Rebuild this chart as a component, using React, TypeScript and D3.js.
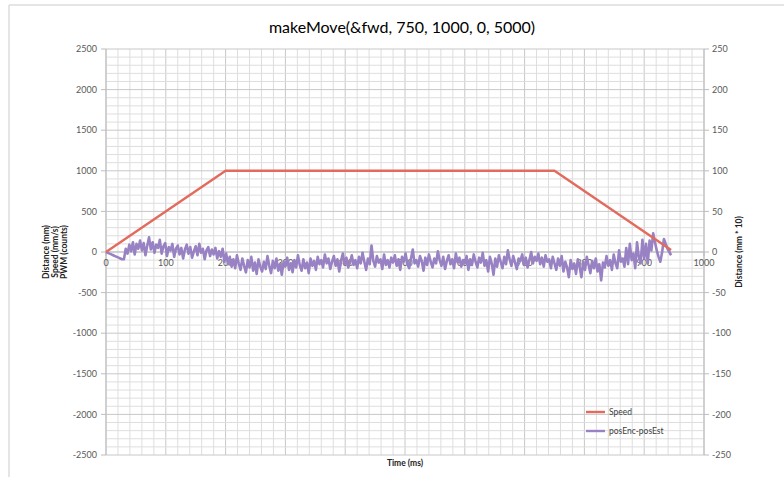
import React from "react";
import * as d3 from "d3";

const TITLE = "makeMove(&fwd, 750, 1000, 0, 5000)";
const X_TICKS = [0, 100, 200, 300, 400, 500, 600, 700, 800, 900, 1000];
const LEFT_TICKS = [2500, 2000, 1500, 1000, 500, 0, -500, -1000, -1500, -2000, -2500];
const RIGHT_TICKS = [250, 200, 150, 100, 50, 0, -50, -100, -150, -200, -250];

// Speed (mm/s), left axis
const speedTime = [0, 200, 750, 945];
const speedValue = [0, 1000, 1000, 25];

// posEnc-posEst (mm * 10), right axis, one sample every 3 ms from t = 0
const SAMPLE_MS = 3;
const posErr = [
  0, -1, -2, -3, -4, -5, -6, -7, -8, -9, -9, 4, -2, 9, 1, 12, -3, 10, 4, 14,
  2, 11, -4, 8, 18, 3, 12, -1, 9, 5, 15, -2, 7, 11, -5, 6, 2, 10, -6, 4,
  8, -3, 5, -8, 3, 9, -2, 6, -7, 1, 7, -4, 10, -1, 4, -9, 2, 6, -5, 3,
  -3, 5, -8, 1, -6, 4, -12, -2, -15, -6, -18, -9, -20, -4, -14, -22, -8, -17, -25, -10,
  -19, -6, -23, -13, -27, -9, -18, -24, -12, -21, -5, -17, -26, -11, -20, -8, -23, -15, -28, -12,
  -18, -7, -22, -14, -25, -10, -19, -4, -16, -23, -9, -20, -13, -26, -8, -17, -11, -22, -6, -15,
  -10, -19, -3, -14, -8, -21, -12, -5, -17, -9, -24, -11, -2, -15, -7, -19, -13, -4, -16, -10,
  -20, -6, -14, -1, -12, -22, -8, -15, 8, -11, -18, -5, -13, -9, -21, -3, -16, -10, -19, -7,
  -13, -4, -17, -9, -22, -6, -12, -2, -15, -20, -8, 3, -14, -10, -18, -5, -11, -23, -7, -16,
  -3, -12, -19, -8, -14, 1, -10, -17, -6, -21, -11, -4, -15, -9, -20, -2, -13, -7, -18, -10,
  -14, -5, -22, -9, -16, -3, -12, -19, -7, -13, -1, -17, -10, -24, -6, -14, -28, -8, -18, -4,
  -12, -20, -6, -15, 2, -9, -17, -5, -13, -21, -8, -11, -3, -16, -7, -19, -10, 0, -14, -6,
  -11, -2, -15, -7, -18, -4, -12, -9, -20, -6, -14, -22, -8, -17, -5, -24, -12, -19, -31, -10,
  -21, -14, -27, -9, -18, -31, -12, -22, -6, -16, -26, -11, -20, -8, -24, -15, -35, -13, -19, -5,
  -17, -10, -22, -3, -14, -20, 2, -12, -8, -18, 5, -15, 10, -10, -2, -20, 12, -6, -14, 15,
  -8, 10, -14, 14, 2, 23, 12, 2, -6, -12, 0, 16, 10, 4, 0, -4,
];

const W = 784;
const H = 477;
const PL = 106;
const PR = 704;
const PT = 49;
const PB = 455;

const FONT = "Lato, 'Open Sans', sans-serif";
const RED = "#e26b5d";
const PURPLE = "#9882c4";

export default function App() {
  const x = d3.scaleLinear().domain([0, 1000]).range([PL, PR]);
  const yL = d3.scaleLinear().domain([-2500, 2500]).range([PB, PT]);
  const yR = d3.scaleLinear().domain([-250, 250]).range([PB, PT]);

  const minorX = d3.range(0, 1001, 20);
  const minorY = d3.range(-2500, 2501, 100);

  const speedPts = speedTime.map((t, i) => [x(t), yL(speedValue[i])] as [number, number]);
  const errPts = posErr.map((v, i) => [x(i * SAMPLE_MS), yR(v)] as [number, number]);
  const line = d3.line();

  const midY = (PT + PB) / 2;

  return (
    <svg
      width={W}
      height={H}
      style={{ position: "absolute", left: 0, top: 0, display: "block", background: "#fff" }}
      fontFamily={FONT}
    >
      <rect x={0} y={0} width={W} height={H} fill="#fff" />
      <line x1={9} x2={W} y1={5} y2={5} stroke="#dcdcdc" strokeWidth={1.5} />
      <line x1={9} x2={9} y1={5} y2={H} stroke="#dcdcdc" strokeWidth={1.5} />

      {/* grid */}
      {minorX.map((v) => (
        <line key={"mx" + v} x1={x(v)} x2={x(v)} y1={PT} y2={PB}
          stroke={v % 100 === 0 ? "#c8c8c8" : "#dedede"} strokeWidth={1} />
      ))}
      {minorY.map((v) => (
        <line key={"my" + v} x1={PL} x2={PR} y1={yL(v)} y2={yL(v)}
          stroke={v % 500 === 0 ? "#c8c8c8" : "#dedede"} strokeWidth={1} />
      ))}

      {/* axes */}
      <line x1={PL} x2={PL} y1={PT} y2={PB} stroke="#bdbdbd" />
      <line x1={PR} x2={PR} y1={PT} y2={PB} stroke="#bdbdbd" />
      <line x1={PL} x2={PR} y1={yL(0)} y2={yL(0)} stroke="#bdbdbd" />

      {LEFT_TICKS.map((v) => (
        <g key={"lt" + v}>
          <line x1={PL - 5} x2={PL} y1={yL(v)} y2={yL(v)} stroke="#bdbdbd" />
          <text x={97} y={yL(v)} dy="0.35em" textAnchor="end" fontSize={9} fill="#595959">{v}</text>
        </g>
      ))}
      {RIGHT_TICKS.map((v) => (
        <g key={"rt" + v}>
          <line x1={PR} x2={PR + 5} y1={yR(v)} y2={yR(v)} stroke="#bdbdbd" />
          <text x={712} y={yR(v)} dy="0.35em" textAnchor="start" fontSize={9} fill="#595959">{v}</text>
        </g>
      ))}
      {X_TICKS.map((v) => (
        <g key={"xt" + v}>
          <line x1={x(v)} x2={x(v)} y1={yL(0)} y2={yL(0) + 4} stroke="#bdbdbd" />
          <text x={x(v)} y={263} dy="0.35em" textAnchor="middle" fontSize={9} fill="#595959">{v}</text>
        </g>
      ))}

      {/* series */}
      <path d={line(errPts) || ""} fill="none" stroke={PURPLE} strokeWidth={2.6} strokeLinejoin="round" />
      <path d={line(speedPts) || ""} fill="none" stroke={RED} strokeWidth={2.4} strokeLinejoin="round" />

      {/* titles */}
      <text x={402} y={27} dy="0.35em" textAnchor="middle" fontSize={16} fill="#000">{TITLE}</text>
      <text x={405} y={463} dy="0.35em" textAnchor="middle" fontSize={8.5} fontWeight="bold" fill="#222">Time (ms)</text>
      <g transform={`translate(46, ${midY}) rotate(-90)`}>
        <text x={0} y={0} dy="0.35em" textAnchor="middle" fontSize={8.5} fontWeight="bold" fill="#222">Distance (mm)</text>
      </g>
      <g transform={`translate(55, ${midY}) rotate(-90)`}>
        <text x={0} y={0} dy="0.35em" textAnchor="middle" fontSize={8.5} fontWeight="bold" fill="#222">Speed (mm/s)</text>
      </g>
      <g transform={`translate(64, ${midY}) rotate(-90)`}>
        <text x={0} y={0} dy="0.35em" textAnchor="middle" fontSize={8.5} fontWeight="bold" fill="#222">PWM (counts)</text>
      </g>
      <g transform={`translate(739, ${midY}) rotate(-90)`}>
        <text x={0} y={0} dy="0.35em" textAnchor="middle" fontSize={8.5} fontWeight="bold" fill="#222">Distance (mm * 10)</text>
      </g>

      {/* legend */}
      <line x1={586} x2={605} y1={412} y2={412} stroke={RED} strokeWidth={2.4} />
      <text x={609} y={412} dy="0.35em" fontSize={8.5} fill="#404040">Speed</text>
      <line x1={586} x2={605} y1={431} y2={431} stroke={PURPLE} strokeWidth={2.4} />
      <text x={609} y={431} dy="0.35em" fontSize={8.5} fill="#404040">posEnc-posEst</text>
    </svg>
  );
}
